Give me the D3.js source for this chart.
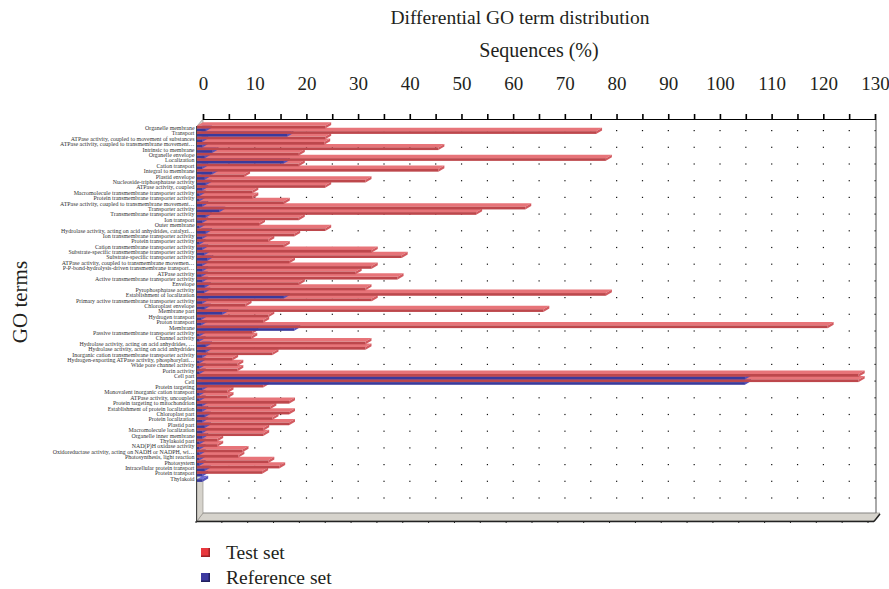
<!DOCTYPE html>
<html><head><meta charset="utf-8">
<script src="https://cdn.jsdelivr.net/npm/d3@7"></script>
<style>body{margin:0;background:#fff} svg{display:block}</style>
</head><body><svg id="c" width="889" height="589"></svg>
<script>
const categories = [
"Organelle membrane","Transport","ATPase activity, coupled to movement of substances",
"ATPase activity, coupled to transmembrane movement…","Intrinsic to membrane","Organelle envelope",
"Localization","Cation transport","Integral to membrane","Plastid envelope",
"Nucleoside-triphosphatase activity","ATPase activity, coupled",
"Macromolecule transmembrane transporter activity","Protein transmembrane transporter activity",
"ATPase activity, coupled to transmembrane movement… ","Transporter activity",
"Transmembrane transporter activity","Ion transport","Outer membrane",
"Hydrolase activity, acting on acid anhydrides, catalyzi…","Ion transmembrane transporter activity",
"Protein transporter activity","Cation transmembrane transporter activity",
"Substrate-specific transmembrane transporter activity","Substrate-specific transporter activity",
"ATPase activity, coupled to transmembrane movemen…","P-P-bond-hydrolysis-driven transmembrane transport…",
"ATPase activity","Active transmembrane transporter activity","Envelope","Pyrophosphatase activity",
"Establishment of localization","Primary active transmembrane transporter activity","Chloroplast envelope",
"Membrane part","Hydrogen transport","Proton transport","Membrane",
"Passive transmembrane transporter activity","Channel activity",
"Hydrolase activity, acting on acid anhydrides, …","Hydrolase activity, acting on acid anhydrides",
"Inorganic cation transmembrane transporter activity","Hydrogen-exporting ATPase activity, phosphorylati…",
"Wide pore channel activity","Porin activity","Cell part","Cell","Protein targeting",
"Monovalent inorganic cation transport","ATPase activity, uncoupled","Protein targeting to mitochondrion",
"Establishment of protein localization","Chloroplast part","Protein localization","Plastid part",
"Macromolecule localization","Organelle inner membrane","Thylakoid part","NAD(P)H oxidase activity",
"Oxidoreductase activity, acting on NADH or NADPH, wi…","Photosynthesis, light reaction","Photosystem",
"Intracellular protein transport","Protein transport","Thylakoid"];

const testSet = [
24.8,77.2,24.8,24.6,46.7,19.7,79.1,19.7,46.7,9.1,
32.6,24.8,10.7,10.7,16.8,63.5,54.0,19.7,12.0,24.8,
18.8,13.8,16.8,33.8,39.6,17.8,33.8,30.7,38.8,19.7,
32.6,79.1,33.8,9.4,67.0,13.8,12.8,122.0,10.7,10.5,
32.6,32.6,14.6,6.8,7.8,7.8,128.0,128.0,12.8,5.9,
5.9,17.8,14.2,17.8,14.6,17.8,12.8,12.8,3.9,3.9,
8.8,8.0,13.8,15.9,12.6,0];

const referenceSet = [
1.7,17.5,1.0,1.0,3.0,1.5,16.8,1.0,3.0,1.5,
1.7,1.0,0.5,0.5,1.0,4.3,1.7,1.0,0.5,1.7,
1.0,0.5,1.0,1.4,2.0,1.0,1.0,0.9,1.0,1.5,
1.4,16.8,1.0,1.5,4.9,0.8,0.8,18.8,0.5,0.5,
1.7,1.7,1.0,0.5,0.5,0.5,106.0,106.0,1.0,0.5,
0.5,1.0,1.0,1.5,1.0,1.5,1.0,1.0,0.5,0.5,
0.5,0.5,0.5,1.5,1.0,1.0];

const xMax = 130;
const labelTicks = d3.range(0, 131, 10);
const minorTicks = d3.range(0, 131, 5);
const seriesNames = ["Test set", "Reference set"];

const svg = d3.select("#c");
const serif = "'Liberation Serif','DejaVu Serif',serif";

const DX = 6, DY = 3.5;
const xBack = d3.scaleLinear().domain([0, xMax]).range([203, 875]);
const xFront = d3.scaleLinear().domain([0, xMax]).range([203 - DX, 875 - DX]);
const plotTop = 119, plotBottom = 513;

const y = d3.scaleBand().domain(categories).range([125.8, 481.9]).paddingInner(0).paddingOuter(0);

svg.append("text").attr("x", 520).attr("y", 24).attr("text-anchor", "middle")
  .attr("font-family", serif).attr("font-size", 19.5).attr("fill", "#231f20")
  .text("Differential GO term distribution");
svg.append("text").attr("x", 539).attr("y", 57).attr("text-anchor", "middle")
  .attr("font-family", serif).attr("font-size", 20).attr("fill", "#231f20")
  .text("Sequences (%)");
svg.append("text").attr("transform", "translate(27,302) rotate(-90)").attr("text-anchor", "middle")
  .attr("font-family", serif).attr("font-size", 21).attr("fill", "#231f20")
  .text("GO terms");

const wallFill = "#d6d3cc";
svg.append("polygon")
  .attr("points", [[203, plotBottom], [880, plotBottom], [874, plotBottom + 8], [197, plotBottom + 8]].join(" "))
  .attr("fill", wallFill).attr("stroke", "#8a8780").attr("stroke-width", 0.6);
svg.append("polygon")
  .attr("points", [[203, plotTop], [203, plotBottom], [197, plotBottom + 8], [197, plotTop + 7]].join(" "))
  .attr("fill", wallFill).attr("stroke", "#8a8780").attr("stroke-width", 0.6);
svg.append("line").attr("x1", 196).attr("x2", 874).attr("y1", plotBottom + 8.5).attr("y2", plotBottom + 8.5)
  .attr("stroke", "#222").attr("stroke-width", 1.6);
svg.append("line").attr("x1", 874).attr("x2", 880).attr("y1", plotBottom + 8.5).attr("y2", plotBottom + 1)
  .attr("stroke", "#222").attr("stroke-width", 1.4);
svg.append("line").attr("x1", 196.5).attr("x2", 196.5).attr("y1", plotTop + 7).attr("y2", plotBottom + 9)
  .attr("stroke", "#444").attr("stroke-width", 1);
svg.append("line").attr("x1", 876).attr("x2", 876).attr("y1", plotTop).attr("y2", plotBottom)
  .attr("stroke", "#555").attr("stroke-width", 1);
svg.append("line").attr("x1", 203).attr("x2", 876).attr("y1", plotBottom).attr("y2", plotBottom)
  .attr("stroke", "#888").attr("stroke-width", 0.6);
svg.append("g").selectAll("line").data(minorTicks).join("line")
  .attr("x1", d => xFront(d) - 1).attr("x2", d => xFront(d) - 1)
  .attr("y1", plotBottom + 8).attr("y2", plotBottom + 10).attr("stroke", "#222").attr("stroke-width", 1);

const gridRows = d3.range(0, 23).map(k => 130.5 + k * 16.7);
const dots = [];
gridRows.forEach(gy => minorTicks.slice(1).forEach(v => dots.push([xBack(v), gy])));
svg.append("g").selectAll("rect").data(dots).join("rect")
  .attr("x", d => d[0] - 0.5).attr("y", d => d[1] - 0.5).attr("width", 1.2).attr("height", 1.2)
  .attr("fill", "#111");

const axisG = svg.append("g").attr("transform", `translate(0,${plotTop})`);
axisG.call(d3.axisTop(xBack).tickValues(minorTicks).tickSize(5).tickFormat(""));
axisG.select(".domain").attr("stroke", "#000").attr("stroke-width", 1.2);
axisG.selectAll(".tick line").attr("stroke", "#000").attr("stroke-width", 1.6);
const lab = svg.append("g").attr("transform", `translate(0,${plotTop})`)
  .call(d3.axisTop(xBack).tickValues(labelTicks).tickSize(0).tickPadding(29));
lab.select(".domain").remove();
lab.selectAll("text").attr("font-family", serif).attr("font-size", 19).attr("fill", "#231f20");

svg.append("g").selectAll("text").data(categories).join("text")
  .attr("x", 194.5).attr("y", d => y(d) + y.bandwidth() / 2 + 1.5)
  .attr("text-anchor", "end").attr("font-family", serif).attr("font-size", 5.9)
  .attr("fill", "#333").text(d => d.trim());

const colors = {
  test: { front: "#bd474c", top: "#e77479", end: "#d25a60" },
  ref:  { front: "#3a3a9c", top: "#6f6ad6", end: "#5552bb" }
};
const h = y.bandwidth() / 2;
const barsG = svg.append("g");
const items = [];
categories.forEach((c, i) => {
  items.push({ c, i, v: referenceSet[i], s: "ref", yTop: y(c) + h });
  items.push({ c, i, v: testSet[i], s: "test", yTop: y(c) });
});
items.sort((a, b) => b.yTop - a.yTop);
items.forEach(d => {
  if (d.v <= 0) return;
  const x0 = xFront(0), x1 = xFront(d.v), yt = d.yTop, col = colors[d.s];
  const g = barsG.append("g");
  g.append("polygon").attr("points", [[x0, yt], [x0 + DX, yt - DY], [x1 + DX, yt - DY], [x1, yt]].join(" "))
    .attr("fill", col.top);
  g.append("polygon").attr("points", [[x1, yt], [x1 + DX, yt - DY], [x1 + DX, yt + h - DY], [x1, yt + h]].join(" "))
    .attr("fill", col.end);
  g.append("rect").attr("x", x0).attr("y", yt).attr("width", x1 - x0).attr("height", h)
    .attr("fill", col.front);
});

const leg = svg.append("g");
[["Test set", "#e8383d", "#9c2226"], ["Reference set", "#3d3aa0", "#22205e"]].forEach((d, i) => {
  const ly = 548 + i * 25;
  leg.append("rect").attr("x", 201).attr("y", ly).attr("width", 9).attr("height", 9).attr("fill", d[2]);
  leg.append("rect").attr("x", 201).attr("y", ly).attr("width", 7.5).attr("height", 7.5).attr("fill", d[1]);
  leg.append("text").attr("x", 226).attr("y", ly + 11).attr("font-family", serif).attr("font-size", 19.5)
    .attr("fill", "#231f20").text(d[0]);
});
</script></body></html>
